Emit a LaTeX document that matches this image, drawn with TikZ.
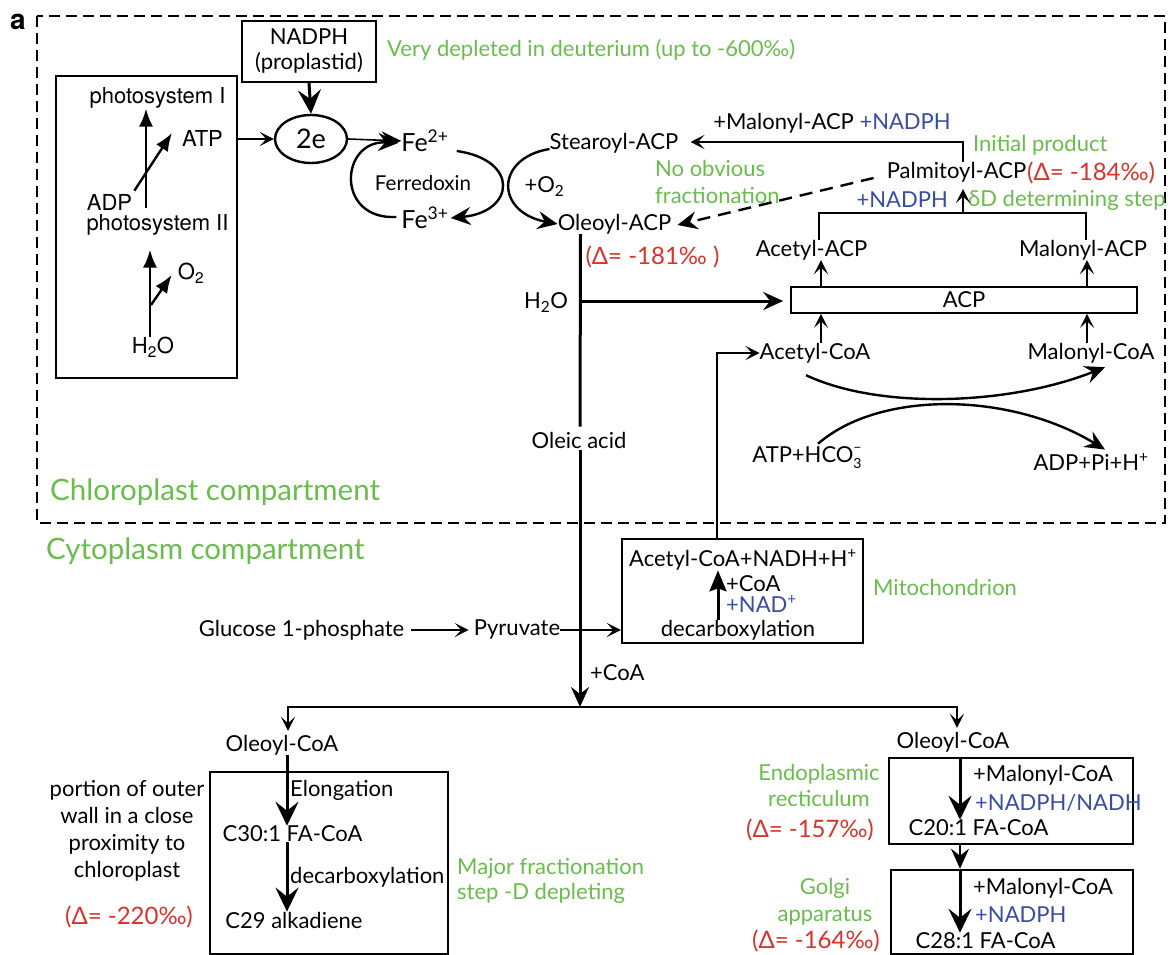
\documentclass[tikz,border=0pt]{standalone}
\usepackage{fontspec}
\setmainfont{Lato}
\newfontfamily\helv{TeX Gyre Heros}
\usetikzlibrary{arrows.meta,shapes.geometric}
\definecolor{cgreen}{RGB}{106,189,76}
\definecolor{cred}{RGB}{214,52,44}
\definecolor{cblue}{RGB}{55,75,168}
\newcommand{\fsz}[2]{\fontsize{#1}{#2}\selectfont}
\tikzset{
  bgtip/.tip={Stealth[length=24pt,width=23pt,inset=9pt]},
  mdtip/.tip={Stealth[length=20pt,width=18pt,inset=7pt]},
  smtip/.tip={Stealth[length=14pt,width=14pt,inset=6.5pt]},
  pstip/.tip={Latex[length=18pt,width=14pt]},
  txt/.style={inner sep=0pt, font=\fsz{22}{26}},
  gtxt/.style={txt, text=cgreen},
  rtxt/.style={inner sep=0pt, font=\fsz{24}{28}, text=cred},
  btxt/.style={txt, text=cblue},
  pstxt/.style={inner sep=0pt, font=\helv\fsz{22}{26}},
  thk/.style={line width=3pt},
  mid/.style={line width=2.4pt},
  thn/.style={line width=1.6pt},
  boxthin/.style={draw, line width=1.6pt, inner sep=0pt},
  boxthick/.style={draw, line width=2.6pt, inner sep=0pt},
}
\begin{document}
\begin{tikzpicture}[x=1pt,y=-1pt]
\useasboundingbox (0,0) rectangle (1168,955);
\fill[white] (0,0) rectangle (1168,955);

% panel letter and compartments
\node[inner sep=0pt, font=\helv\bfseries\fsz{28}{30}] (lbla) at (18,22) {a};
\draw[line width=2.2pt, dash pattern=on 11pt off 6pt] (37,16) rectangle (1165,523);
\node[gtxt, font=\fsz{29.5}{32}, anchor=west] (chl) at (50,492) {Chloroplast compartment};
\node[gtxt, font=\fsz{29.5}{32}, anchor=west] (cyt) at (46,551) {Cytoplasm compartment};

% NADPH box
\node[boxthin, txt, minimum width=134, minimum height=61, align=center, font=\fsz{22}{25}] (nadph) at (309,51.5) {NADPH\\(proplastid)};
\node[gtxt, anchor=west] (vdep) at (387,50) {Very depleted in deuterium (up to -600‰)};

% photosystem box
\node[draw, line width=2pt, minimum width=181, minimum height=302, inner sep=0pt] (psbox) at (146.5,227) {};
\node[pstxt] (ps1) at (157.5,98) {photosystem I};
\node[pstxt] (atp) at (202.5,138) {ATP};
\node[pstxt] (adp) at (109.5,202) {ADP};
\node[pstxt] (ps2) at (157.5,225) {photosystem II};
\node[pstxt] (h2oa) at (153,347) {H\textsubscript{2}O};
\node[pstxt] (o2) at (191,273) {O\textsubscript{2}};
\coordinate (ps2top) at (146,208);
\coordinate (o2base) at (151,305);
\draw[mid, -pstip] (ps2top) -- (ps1.south -| ps2top);
\draw[mid, -pstip] ([shift={(2,-3)}]adp.north east) -- ([shift={(-10,-5)}]atp.west);
\draw[mid, -pstip, shorten >=14pt] (h2oa.north -| 150,0) -- (ps2.south -| 150,0);
\draw[mid, -pstip] (o2base) -- ([shift={(-6,2)}]o2.west);

% 2e and ferredoxin
\node[draw, ellipse, line width=2.4pt, minimum width=72, minimum height=48, inner sep=0pt, font=\fsz{27}{30}] (e2) at (311,139) {2e};
\draw[thn, -smtip] (psbox.east |- e2.west) -- (e2.west);
\draw[thk, -bgtip] (nadph.south) -- (e2.north);
\node[inner sep=0pt, font=\fsz{25}{28}] (fe2) at (425,141) {Fe\textsuperscript{2+}};
\node[inner sep=0pt, font=\fsz{25}{28}] (fe3) at (425,218) {Fe\textsuperscript{3+}};
\node[txt, font=\fsz{20.5}{24}] (ferr) at (423,183) {Ferredoxin};
\draw[thn, -mdtip] (e2.east) -- (fe2.west);
\draw[mid, -mdtip] ([shift={(-5,-1)}]fe3.west) .. controls (335,220) and (340,140) .. ([shift={(-3,2)}]fe2.west);
\draw[mid, -mdtip] ([shift={(8,10)}]fe2.east) .. controls (520,160) and (515,212) .. ([shift={(2,0)}]fe3.east);

% stearoyl / oleoyl
\node[txt] (stear) at (614,143) {Stearoyl-ACP};
\node[txt] (oleo) at (614.5,224) {Oleoyl-ACP};
\node[txt] (o2b) at (544.5,187) {+O\textsubscript{2}};
\node[rtxt] (d181) at (652.5,257) {(Δ= -181‰ )};
\draw[mid, -mdtip] ([shift={(0,6)}]stear.west) .. controls (495,158) and (495,212) .. (oleo.west);

% palmitoyl region
\node[txt] (palm) at (956.5,172) {Palmitoyl-ACP};
\node[rtxt, anchor=west] (d184) at (1027,173) {(Δ= -184‰)};
\node[gtxt, anchor=west] (initp) at (973,145) {Initial product};
\node[txt] (mal1) at (832,123) {+Malonyl-ACP \textcolor{cblue}{+NADPH}};
\coordinate (ptop) at (963,162);
\draw[thn, -smtip] (ptop) |- ([shift={(12,-1)}]stear.east);
\node[gtxt, align=left, anchor=west, font=\fsz{22}{27}] (noobv) at (655,182) {No obvious\\fractionation};
\draw[mid, dash pattern=on 13pt off 8pt, -mdtip] ([shift={(-13,6)}]palm.west) -- ([shift={(6,1)}]oleo.east);
\node[btxt, anchor=east] (nadph2) at (948,200) {+NADPH};
\node[gtxt, anchor=west] (ddet) at (968,200) {δD determining step};
\coordinate (jn) at (963,213);
\draw[thn, -smtip] (jn) -- (963,189);
\node[txt] (aacp) at (811.5,250) {Acetyl-ACP};
\node[txt] (macp) at (1083,250) {Malonyl-ACP};
\draw[thn] ([shift={(7.5,0)}]aacp.north) |- (jn) -| ([shift={(3,0)}]macp.north);

% ACP box
\node[boxthin, txt, minimum width=346, minimum height=26] (acp) at (964,300) {ACP};
\draw[thn, -smtip] (acp.north -| 821,0) -- (aacp.south -| 821,0);
\draw[thn, -smtip] (acp.north -| 1087,0) -- (macp.south -| 1087,0);
\node[txt] (acoa) at (815,353) {Acetyl-CoA};
\node[txt] (mcoa) at (1091,353) {Malonyl-CoA};
\draw[thn, -smtip] (acoa.north -| 821,0) -- (acp.south -| 821,0);
\draw[thn, -smtip] (mcoa.north -| 1087,0) -- (acp.south -| 1087,0);

% H2O and main vertical
\node[txt] (h2ob) at (546,303) {H\textsubscript{2}O};
\coordinate (h2oj) at (582,301);
\draw[thk, -mdtip, shorten >=7pt] (h2oj) -- (h2oj -| acp.west);
\node[txt] (oleic) at (579,440) {Oleic acid};
\coordinate (split) at (580,707);
\draw[thk, shorten >=5pt] ([shift={(-34,0)}]oleo.south) -- (oleic.north -| split);
\draw[thk, -mdtip, shorten <=2pt] (oleic.south -| split) -- (split);
\node[txt, anchor=west] (coa) at (590,673) {+CoA};

% carboxylation curves
\node[txt] (atphco) at (807,458) {ATP+HCO\raisebox{-6pt}{\makebox[0pt][l]{\fsz{14}{14}3}}\raisebox{10pt}{\fsz{14}{14}−}};
\node[txt] (adppi) at (1091,462) {ADP+Pi+H\textsuperscript{+}};
\draw[mid, -mdtip] ([shift={(-9,12)}]acoa.south) .. controls (880,410) and (1010,405) .. ([shift={(14,4)}]mcoa.south);
\draw[mid, -mdtip] ([shift={(11,-3)}]atphco.north) .. controls (880,390) and (1010,392) .. ([shift={(14,-4)}]adppi.north);

% mitochondrion
\node[draw, line width=2.4pt, minimum width=241, minimum height=104, inner sep=0pt] (mito) at (742.5,591) {};
\node[txt] (acnadh) at (743,560) {Acetyl-CoA+NADH+H\textsuperscript{+}};
\node[txt] (decarb1) at (738,630) {decarboxylation};
\draw[thk, -{Stealth[length=21pt,width=17pt,inset=3pt]}] (decarb1.north -| 718,0) -- (acnadh.south -| 718,0);
\node[txt, anchor=west] (pcoa) at (726,584) {+CoA};
\node[btxt, anchor=west] (pnad) at (726,604) {+NAD\textsuperscript{+}};
\node[gtxt, anchor=west] (mitol) at (873,587) {Mitochondrion};
\draw[thn, -smtip] (mito.north -| 717,0) |- (acoa.west);

% glucose / pyruvate
\node[txt] (gluc) at (301.5,630) {Glucose 1-phosphate};
\node[txt] (pyr) at (517,630) {Pyruvate};
\draw[thn, -smtip, shorten <=7pt, shorten >=5pt] (gluc.east) -- (pyr.west);
\draw[thn, -smtip] (pyr.east) -- (pyr.east -| mito.west);

% split to two branches
\node[txt] (olcoaL) at (282,745) {Oleoyl-CoA};
\node[txt] (olcoaR) at (953,742) {Oleoyl-CoA};
\draw[mid, -smtip, shorten >=4pt] (split) -| ([shift={(6,0)}]olcoaL.north);
\draw[mid, -smtip, shorten >=4pt] (split) -| ([shift={(4,0)}]olcoaR.north);

% left box
\node[draw, line width=2.4pt, minimum width=238, minimum height=182, inner sep=0pt] (lbox) at (329,863) {};
\node[txt, anchor=west] (elong) at (290,790) {Elongation};
\node[txt] (c30) at (292.5,834) {C30:1 FA-CoA};
\node[txt, anchor=west] (decarb2) at (290,877) {decarboxylation};
\node[txt] (c29) at (294,920) {C29 alkadiene};
\draw[thk, -bgtip] (olcoaL.south -| 287,0) -- (c30.north -| 287,0);
\draw[thk, -bgtip] (c30.south -| 287,0) -- (c29.north -| 287,0);
\node[txt, align=center, font=\fsz{22}{27}] (portion) at (127,831) {portion of outer\\wall in a close\\proximity to\\chloroplast};
\node[rtxt] (d220) at (129,917) {(Δ= -220‰)};
\node[gtxt, align=left, anchor=west, font=\fsz{22}{25}] (major) at (457,880.5) {Major fractionation\\step -D depleting};

% right boxes
\node[boxthick, minimum width=244, minimum height=86] (erbox) at (1011,801) {};
\node[txt, anchor=west] (pmal1) at (973,775) {+Malonyl-CoA};
\node[btxt, anchor=west] (pnn) at (975,803) {+NADPH/NADH};
\node[txt] (c20) at (978.5,828) {C20:1 FA-CoA};
\draw[thk, -bgtip] (erbox.north -| 960,0) -- (c20.north -| 960,0);
\node[boxthick, minimum width=242, minimum height=84] (gbox) at (1012,912) {};
\draw[thn, -mdtip] (erbox.south -| 960,0) -- (gbox.north -| 960,0);
\node[txt, anchor=west] (pmal2) at (973,888) {+Malonyl-CoA};
\node[btxt, anchor=west] (pnadph3) at (975,915) {+NADPH};
\node[txt] (c28) at (985.5,941) {C28:1 FA-CoA};
\draw[thk, -bgtip] (gbox.north -| 960,0) -- (c28.north -| 960,0);
\node[gtxt, align=center, font=\fsz{22}{26}] (er) at (819,785) {Endoplasmic\\recticulum};
\node[rtxt] (d157) at (810,830) {(Δ= -157‰)};
\node[gtxt, align=center, font=\fsz{22}{27}] (golgi) at (825,902) {Golgi\\apparatus};
\node[rtxt] (d164) at (816,941) {(Δ= -164‰)};
\end{tikzpicture}
\end{document}
